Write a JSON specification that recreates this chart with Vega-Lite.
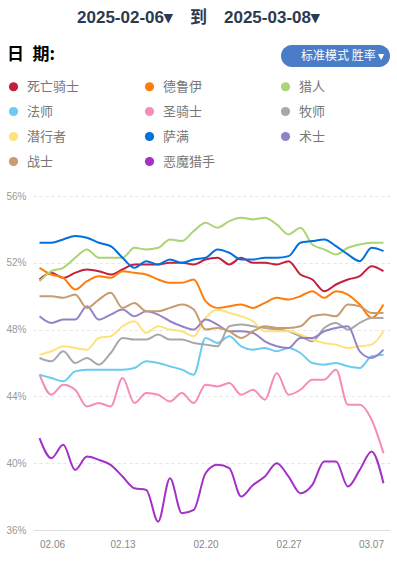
{
  "$schema": "https://vega.github.io/schema/vega-lite/v6.json",
  "width": 357,
  "height": 334,
  "autosize": {"type": "none"},
  "padding": {"left": 33, "top": 196, "right": 7, "bottom": 37},
  "background": "#ffffff",
  "title": {
    "text": "2025-02-06▾\u2003到\u20032025-03-08▾",
    "anchor": "middle",
    "dx": -13,
    "offset": 18,
    "fontSize": 17,
    "fontWeight": "bold",
    "color": "#2c3a4f",
    "font": "Liberation Sans, Noto Sans CJK SC, sans-serif"
  },
  "data": {
    "values": [
      {"d": "02.06", "死亡骑士": 51.0, "德鲁伊": 51.7, "猎人": 50.9, "法师": 45.3, "圣骑士": 45.3, "牧师": 46.3, "潜行者": 46.5, "萨满": 53.2, "术士": 48.8, "战士": 50.0, "恶魔猎手": 41.5},
      {"d": "02.07", "死亡骑士": 51.4, "德鲁伊": 51.3, "猎人": 51.5, "法师": 45.1, "圣骑士": 44.1, "牧师": 46.1, "潜行者": 46.7, "萨满": 53.2, "术士": 48.4, "战士": 50.0, "恶魔猎手": 40.3},
      {"d": "02.08", "死亡骑士": 51.1, "德鲁伊": 51.1, "猎人": 51.7, "法师": 44.9, "圣骑士": 44.7, "牧师": 46.7, "潜行者": 47.0, "萨满": 53.4, "术士": 48.6, "战士": 49.9, "恶魔猎手": 41.1},
      {"d": "02.09", "死亡骑士": 51.4, "德鲁伊": 50.4, "猎人": 52.3, "法师": 45.5, "圣骑士": 44.4, "牧师": 46.0, "潜行者": 46.9, "萨满": 53.6, "术士": 48.6, "战士": 50.1, "恶魔猎手": 39.6},
      {"d": "02.10", "死亡骑士": 51.6, "德鲁伊": 50.9, "猎人": 52.8, "法师": 45.6, "圣骑士": 43.4, "牧师": 46.3, "潜行者": 46.8, "萨满": 53.5, "术士": 49.4, "战士": 49.3, "恶魔猎手": 40.4},
      {"d": "02.11", "死亡骑士": 51.5, "德鲁伊": 51.2, "猎人": 52.3, "法师": 45.6, "圣骑士": 43.6, "牧师": 45.9, "潜行者": 47.5, "萨满": 53.2, "术士": 48.6, "战士": 49.8, "恶魔猎手": 40.2},
      {"d": "02.12", "死亡骑士": 51.3, "德鲁伊": 51.1, "猎人": 52.3, "法师": 45.6, "圣骑士": 43.4, "牧师": 46.6, "潜行者": 47.6, "萨满": 53.0, "术士": 48.9, "战士": 50.2, "恶魔猎手": 39.9},
      {"d": "02.13", "死亡骑士": 51.6, "德鲁伊": 51.5, "猎人": 52.3, "法师": 45.6, "圣骑士": 45.1, "牧师": 47.5, "潜行者": 48.2, "萨满": 52.3, "术士": 49.2, "战士": 49.3, "恶魔猎手": 39.2},
      {"d": "02.14", "死亡骑士": 51.9, "德鲁伊": 51.4, "猎人": 52.9, "法师": 45.7, "圣骑士": 43.6, "牧师": 47.4, "潜行者": 48.5, "萨满": 51.7, "术士": 48.8, "战士": 49.6, "恶魔猎手": 38.5},
      {"d": "02.15", "死亡骑士": 51.9, "德鲁伊": 51.3, "猎人": 52.8, "法师": 46.1, "圣骑士": 44.2, "牧师": 47.4, "潜行者": 47.8, "萨满": 52.1, "术士": 49.1, "战士": 49.1, "恶魔猎手": 38.4},
      {"d": "02.16", "死亡骑士": 51.9, "德鲁伊": 51.0, "猎人": 52.9, "法师": 46.0, "圣骑士": 44.1, "牧师": 47.7, "潜行者": 48.2, "萨满": 51.9, "术士": 48.9, "战士": 49.1, "恶魔猎手": 36.5},
      {"d": "02.17", "死亡骑士": 52.0, "德鲁伊": 50.8, "猎人": 53.4, "法师": 45.8, "圣骑士": 43.7, "牧师": 47.4, "潜行者": 48.0, "萨满": 52.2, "术士": 48.5, "战士": 49.3, "恶魔猎手": 39.1},
      {"d": "02.18", "死亡骑士": 52.0, "德鲁伊": 50.8, "猎人": 53.3, "法师": 45.6, "圣骑士": 44.2, "牧师": 47.4, "潜行者": 47.9, "萨满": 52.0, "术士": 48.2, "战士": 49.5, "恶魔猎手": 37.0},
      {"d": "02.19", "死亡骑士": 51.9, "德鲁伊": 51.0, "猎人": 53.9, "法师": 45.3, "圣骑士": 43.6, "牧师": 47.2, "潜行者": 47.6, "萨满": 52.2, "术士": 48.0, "战士": 49.2, "恶魔猎手": 37.2},
      {"d": "02.20", "死亡骑士": 52.2, "德鲁伊": 49.7, "猎人": 54.4, "法师": 47.5, "圣骑士": 44.7, "牧师": 47.1, "潜行者": 48.7, "萨满": 52.3, "术士": 48.6, "战士": 48.0, "恶魔猎手": 39.4},
      {"d": "02.21", "死亡骑士": 52.3, "德鲁伊": 49.3, "猎人": 54.1, "法师": 47.2, "圣骑士": 44.6, "牧师": 47.0, "潜行者": 49.2, "萨满": 52.8, "术士": 48.3, "战士": 48.1, "恶魔猎手": 39.9},
      {"d": "02.22", "死亡骑士": 51.9, "德鲁伊": 49.4, "猎人": 54.5, "法师": 47.6, "圣骑士": 44.8, "牧师": 48.2, "潜行者": 49.0, "萨满": 52.6, "术士": 47.9, "战士": 47.9, "恶魔猎手": 39.7},
      {"d": "02.23", "死亡骑士": 52.3, "德鲁伊": 49.5, "猎人": 54.7, "法师": 47.0, "圣骑士": 44.1, "牧师": 48.3, "潜行者": 48.8, "萨满": 52.2, "术士": 47.9, "战士": 47.5, "恶魔猎手": 38.0},
      {"d": "02.24", "死亡骑士": 52.0, "德鲁伊": 49.3, "猎人": 54.6, "法师": 46.8, "圣骑士": 44.4, "牧师": 48.2, "潜行者": 48.5, "萨满": 52.2, "术士": 47.8, "战士": 47.9, "恶魔猎手": 38.7},
      {"d": "02.25", "死亡骑士": 52.0, "德鲁伊": 49.6, "猎人": 54.7, "法师": 46.9, "圣骑士": 43.8, "牧师": 48.1, "潜行者": 47.9, "萨满": 52.3, "术士": 47.3, "战士": 48.2, "恶魔猎手": 39.2},
      {"d": "02.26", "死亡骑士": 51.9, "德鲁伊": 49.9, "猎人": 54.3, "法师": 46.7, "圣骑士": 45.4, "牧师": 48.0, "潜行者": 47.9, "萨满": 52.3, "术士": 47.0, "战士": 48.1, "恶魔猎手": 40.0},
      {"d": "02.27", "死亡骑士": 52.1, "德鲁伊": 49.8, "猎人": 53.7, "法师": 46.9, "圣骑士": 44.1, "牧师": 47.9, "潜行者": 47.9, "萨满": 52.4, "术士": 46.9, "战士": 48.1, "恶魔猎手": 39.2},
      {"d": "02.28", "死亡骑士": 51.3, "德鲁伊": 50.0, "猎人": 54.1, "法师": 46.6, "圣骑士": 44.4, "牧师": 47.6, "潜行者": 47.7, "萨满": 53.2, "术士": 47.5, "战士": 48.2, "恶魔猎手": 38.2},
      {"d": "03.01", "死亡骑士": 51.0, "德鲁伊": 50.3, "猎人": 53.1, "法师": 46.0, "圣骑士": 45.0, "牧师": 47.3, "潜行者": 47.4, "萨满": 53.3, "术士": 47.5, "战士": 48.8, "恶魔猎手": 38.7},
      {"d": "03.02", "死亡骑士": 50.3, "德鲁伊": 49.9, "猎人": 52.8, "法师": 45.9, "圣骑士": 45.0, "牧师": 48.1, "潜行者": 47.2, "萨满": 53.4, "术士": 47.9, "战士": 48.9, "恶魔猎手": 40.1},
      {"d": "03.03", "死亡骑士": 50.7, "德鲁伊": 50.3, "猎人": 52.5, "法师": 46.0, "圣骑士": 45.6, "牧师": 48.4, "潜行者": 47.1, "萨满": 53.0, "术士": 48.1, "战士": 48.8, "恶魔猎手": 40.1},
      {"d": "03.04", "死亡骑士": 51.0, "德鲁伊": 50.1, "猎人": 52.9, "法师": 45.8, "圣骑士": 43.5, "牧师": 48.0, "潜行者": 46.9, "萨满": 52.5, "术士": 48.2, "战士": 49.5, "恶魔猎手": 38.6},
      {"d": "03.05", "死亡骑士": 51.2, "德鲁伊": 49.5, "猎人": 53.1, "法师": 45.7, "圣骑士": 43.5, "牧师": 48.4, "潜行者": 47.0, "萨满": 52.1, "术士": 46.7, "战士": 49.4, "恶魔猎手": 39.6},
      {"d": "03.06", "死亡骑士": 51.8, "德鲁伊": 48.7, "猎人": 53.2, "法师": 46.4, "圣骑士": 42.6, "牧师": 48.7, "潜行者": 47.1, "萨满": 52.9, "术士": 46.3, "战士": 49.0, "恶魔猎手": 40.7},
      {"d": "03.07", "死亡骑士": 51.5, "德鲁伊": 49.5, "猎人": 53.2, "法师": 46.5, "圣骑士": 40.6, "牧师": 48.7, "潜行者": 47.9, "萨满": 52.7, "术士": 46.8, "战士": 49.0, "恶魔猎手": 38.8}
    ]
  },
  "transform": [
    {"fold": ["死亡骑士", "德鲁伊", "猎人", "法师", "圣骑士", "牧师", "潜行者", "萨满", "术士", "战士", "恶魔猎手"], "as": ["class", "rate"]}
  ],
  "mark": {"type": "line", "interpolate": "monotone", "strokeWidth": 2},
  "encoding": {
    "x": {
      "field": "d",
      "type": "ordinal",
      "scale": {"type": "point", "padding": 0.55},
      "axis": {
        "values": ["02.06", "02.13", "02.20", "02.27", "03.07"],
        "title": null,
        "labelAngle": 0,
        "ticks": false,
        "grid": false,
        "domainColor": "#dddddd",
        "labelColor": "#888888",
        "labelFont": "Liberation Sans",
        "labelFontSize": 10,
        "labelPadding": 9,
        "labelFlush": 10
      }
    },
    "y": {
      "field": "rate",
      "type": "quantitative",
      "scale": {"domain": [36, 56], "nice": false, "zero": false},
      "axis": {
        "values": [36, 40, 44, 48, 52, 56],
        "labelExpr": "datum.value + '%'",
        "title": null,
        "domain": false,
        "ticks": false,
        "labelPadding": 7,
        "labelColor": "#999999",
        "labelFont": "Liberation Sans",
        "labelFontSize": 10,
        "gridColor": "#e6e6e6",
        "gridDash": [3, 3]
      }
    },
    "color": {
      "field": "class",
      "type": "nominal",
      "scale": {
        "domain": ["死亡骑士", "德鲁伊", "猎人", "法师", "圣骑士", "牧师", "潜行者", "萨满", "术士", "战士", "恶魔猎手"],
        "range": ["#C41F3B", "#FF7D0A", "#ABD473", "#69CCF0", "#F58CBA", "#A8A8A8", "#FFE27A", "#0070DE", "#9482C9", "#C79C6E", "#A330C9"]
      },
      "legend": {
        "title": "日\u2002期:",
        "orient": "none",
        "direction": "horizontal",
        "legendX": -26,
        "legendY": -149,
        "columns": 3,
        "gridAlign": "all",
        "columnPadding": 63,
        "rowPadding": 11,
        "symbolType": "circle",
        "symbolSize": 85,
        "symbolStrokeWidth": 0,
        "labelFont": "Noto Sans CJK SC",
        "labelFontSize": 13,
        "labelColor": "#777777",
        "labelOffset": 7,
        "titleFont": "Noto Sans CJK SC",
        "titleFontSize": 17,
        "titleFontWeight": "bold",
        "titleColor": "#000000",
        "titlePadding": 16,
        "encode": {"symbols": {"update": {"fill": {"scale": "color", "field": "value"}, "fillOpacity": {"value": 1}}}}
      }
    },
    "opacity": {
      "datum": "标准模式 胜率 ▾",
      "type": "nominal",
      "scale": {"range": [1, 1]},
      "legend": {
        "title": null,
        "orient": "none",
        "legendX": 248,
        "legendY": -151,
        "fillColor": "#4a7cc7",
        "cornerRadius": 11,
        "padding": 5,
        "labelColor": "#ffffff",
        "labelFont": "Noto Sans CJK SC",
        "labelFontSize": 12,
        "labelOffset": 3,
        "symbolOpacity": 0,
        "symbolSize": 0,
        "symbolStrokeWidth": 0
      }
    }
  },
  "config": {"view": {"stroke": null}}
}
